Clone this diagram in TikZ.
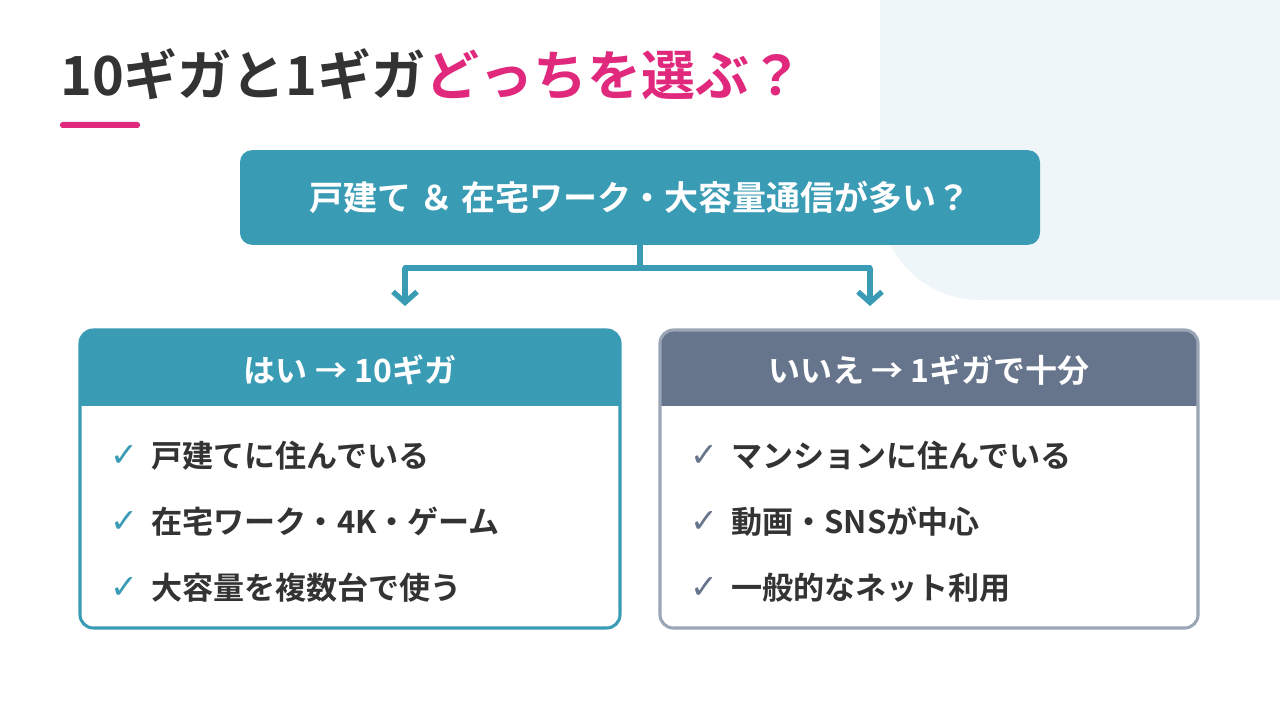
\documentclass[tikz,border=0pt]{standalone}
\usepackage{fontspec}
\setmainfont{Noto Sans CJK JP}[BoldFont={* Bold}]
\newfontfamily\djsym{DejaVu Sans}
\usetikzlibrary{arrows.meta}
\definecolor{teal}{HTML}{3A9BB5}
\definecolor{slate}{HTML}{66748C}
\definecolor{slateb}{HTML}{9AA5B5}
\definecolor{ink}{HTML}{333333}
\definecolor{pink}{HTML}{E0287D}
\definecolor{bgblue}{HTML}{EEF6F9}
\tikzset{
 item/.style={anchor=west,text=ink,font=\bfseries\fontsize{23.3}{23.3}\selectfont,inner sep=0},
 chk/.style={anchor=west,font=\djsym\fontsize{25}{25}\selectfont,inner sep=0},
 head/.style={text=white,font=\bfseries\fontsize{24}{24}\selectfont},
 conn/.style={draw=teal,line width=4pt},
 tip/.style={-{Straight Barb[length=8pt,width=18pt,line width=4pt]}}
}
\begin{document}
\begin{tikzpicture}[x=0.75pt,y=-0.75pt]
\useasboundingbox (0,0) rectangle (1280,720);
\fill[white] (0,0) rectangle (1280,720);
\fill[bgblue,rounded corners=75pt] (880,-200) rectangle (1480,300);
\node[anchor=base west,inner sep=0,font=\bfseries\fontsize{40.5}{40.5}\selectfont] (title) at (60,96) {\textcolor{ink}{10ギガと1ギガ}\textcolor{pink}{どっちを選ぶ？}};
\fill[pink,rounded corners=2pt] (60,122) rectangle (140,128);
\node[fill=teal,rounded corners=9pt,minimum width=600pt,minimum height=71pt,text=white,font=\bfseries\fontsize{25.5}{25.5}\selectfont] (q) at (640,197.5) {戸建て ＆ 在宅ワーク・大容量通信が多い？};
\coordinate (j) at (640,268);
\coordinate (l) at (405,268);
\coordinate (r) at (870,268);
\coordinate (la) at (405,306);
\coordinate (ra) at (870,306);
\draw[conn] (q.south) -- (j);
\draw[conn,line cap=round] (l) -- (r);
\draw[conn,tip] (l) -- (la);
\draw[conn,tip] (r) -- (ra);
% left
\begin{scope}
\clip[rounded corners=10pt] (80,330) rectangle (620,628);
\fill[teal] (80,330) rectangle (620,406);
\end{scope}
\draw[teal,line width=2.3pt,rounded corners=10pt] (80,330) rectangle (620,628);
\node[head] (lh) at (350,370) {はい → 10ギガ};
\foreach \t/\y/\n in {戸建てに住んでいる/456/a,在宅ワーク・4K・ゲーム/522/b,大容量を複数台で使う/588/c}{
 \node[chk,text=teal] (lc\n) at (110,\y) {✓};
 \node[item] (lt\n) at (151,\y) {\t};
}
% right
\begin{scope}
\clip[rounded corners=10pt] (660,330) rectangle (1198,628);
\fill[slate] (660,330) rectangle (1198,406);
\end{scope}
\draw[slateb,line width=2.3pt,rounded corners=10pt] (660,330) rectangle (1198,628);
\node[head] (rh) at (929,370) {いいえ → 1ギガで十分};
\foreach \t/\y/\n in {マンションに住んでいる/456/a,動画・SNSが中心/522/b,一般的なネット利用/588/c}{
 \node[chk,text=slate] (rc\n) at (690,\y) {✓};
 \node[item] (rt\n) at (731,\y) {\t};
}
\end{tikzpicture}
\end{document}
